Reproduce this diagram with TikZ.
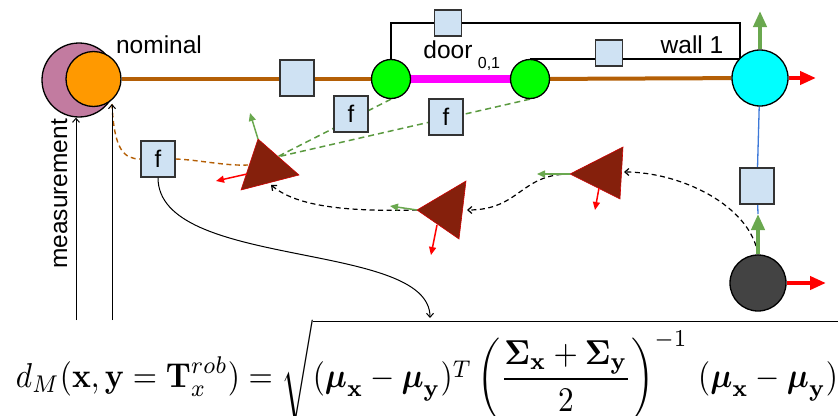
\documentclass[tikz,border=0pt]{standalone}
\usepackage[no-math]{fontspec}
\usepackage{amsmath}
\usepackage{graphicx}
\newfontfamily\arial{Liberation Sans}
\usetikzlibrary{arrows.meta, backgrounds}
\definecolor{measfill}{HTML}{C27BA0}
\definecolor{nomfill}{HTML}{FF9900}
\definecolor{odomline}{HTML}{B45F06}
\definecolor{boxfill}{HTML}{CFE2F3}
\definecolor{boxline}{HTML}{333333}
\definecolor{doorfill}{HTML}{00FF00}
\definecolor{doorline}{HTML}{FF00FF}
\definecolor{wallfill}{HTML}{00FFFF}
\definecolor{robfill}{HTML}{434343}
\definecolor{posefill}{HTML}{85200C}
\definecolor{axisgreen}{HTML}{6AA84F}
\definecolor{dashgreen}{HTML}{5B9A40}
\definecolor{vertline}{HTML}{3C78D8}
\tikzstyle{vertex} = [circle, draw=black, line width=1.3pt, inner sep=0pt]
\tikzstyle{factor} = [rectangle, draw=boxline, fill=boxfill, line width=1.3pt, minimum width=34pt, minimum height=36pt, inner sep=0pt, font=\arial\fontsize{24}{28}\selectfont]
\tikzstyle{smallfactor} = [factor, minimum width=27pt, minimum height=26pt]
\tikzstyle{annot} = [inner sep=0pt, font=\arial\fontsize{24.5}{29}\selectfont]
\tikzstyle{arrow} = [line width=1pt, -{Straight Barb[length=4pt,width=7pt]}]
\tikzstyle{trail} = [arrow, line width=1.2pt, dash pattern=on 5pt off 3.5pt]
\tikzstyle{gdash} = [line width=1.5pt, draw=dashgreen, dash pattern=on 6pt off 4pt]
\tikzstyle{odash} = [line width=1.4pt, draw=odomline, dash pattern=on 5pt off 3.5pt]
\tikzstyle{bigaxis} = [line width=4pt, -{Triangle[length=16pt,width=13pt]}]
\tikzstyle{smallaxis} = [line width=1.5pt, -{Triangle[length=8pt,width=7pt]}]
\tikzstyle{pose} = [fill=posefill, draw=red!80!black, line width=0.6pt]

\begin{document}
\begin{tikzpicture}[x=1pt, y=-1pt]
        \useasboundingbox (0,0) rectangle (840,415);
        % Nodes
        \node (meas) [vertex, fill=measfill, minimum size=74pt] at (79,80) {};
        \node (nom) [vertex, fill=nomfill, minimum size=55pt] at (93.5,79) {};
        \node (gL) [vertex, fill=doorfill, minimum size=39pt] at (391,79) {};
        \node (gR) [vertex, fill=doorfill, minimum size=39pt] at (530,79) {};
        \node (wall) [vertex, fill=wallfill, minimum size=56pt] at (760,78) {};
        \node (rob) [vertex, fill=robfill, minimum size=56pt] at (758,283) {};

        \node (odom) [factor] at (297,78) {};
        \node (ftop) [smallfactor] at (448,23) {};
        \node (fwall) [smallfactor] at (609,53) {};
        \node (fvert) [factor] at (757,186) {};
        \node (f1) [factor] at (158,159) {f};
        \node (f2) [factor] at (351,114) {f};
        \node (f3) [factor] at (446,117) {f};

        \node (nomtxt) [annot, anchor=base] at (159,53) {nominal};
        \node (meastxt) [annot, anchor=base, rotate=90] at (67,194) {measurement};
        \node (doortxt) [annot, anchor=base] at (448,58) {door};
        \node (doorsub) [annot, anchor=base, font=\arial\fontsize{16}{18}\selectfont] at (489,68) {0,1};
        \node (walltxt) [annot, anchor=base] at (692,53) {wall 1};

        \node (eq) [anchor=north, inner sep=0pt] at (427,319) {\resizebox*{822pt}{105pt}{$\displaystyle d_M(\mathbf{x},\mathbf{y}=\mathbf{T}_x^{rob})=\sqrt{(\boldsymbol{\mu}_{\mathbf{x}}-\boldsymbol{\mu}_{\mathbf{y}})^T\left(\frac{\boldsymbol{\Sigma}_{\mathbf{x}}+\boldsymbol{\Sigma}_{\mathbf{y}}}{2}\right)^{-1}\,(\boldsymbol{\mu}_{\mathbf{x}}-\boldsymbol{\mu}_{\mathbf{y}})}$}};

        % Robot poses
        \coordinate (t1a) at (258,139); \coordinate (t1b) at (299,175); \coordinate (t1c) at (241,190);
        \coordinate (t2a) at (417,210); \coordinate (t2b) at (466,181); \coordinate (t2c) at (459,239);
        \coordinate (t3a) at (570,174); \coordinate (t3b) at (623,147); \coordinate (t3c) at (620,199);
        \filldraw[pose] (t1a) -- (t1b) -- (t1c) -- cycle;
        \filldraw[pose] (t2a) -- (t2b) -- (t2c) -- cycle;
        \filldraw[pose] (t3a) -- (t3b) -- (t3c) -- cycle;

        % Free ends
        \coordinate (wallc) at (740,59.5);
        \coordinate (wallx) at (816,78);
        \coordinate (wally) at (760,11);
        \coordinate (robx) at (826,283);
        \coordinate (roby) at (758,214);
        \coordinate (t1in) at (248,165);
        \coordinate (t1g) at (277,157);
        \coordinate (t1s) at (271,185);
        \coordinate (t2s) at (467,210);
        \coordinate (t3s) at (624,172);
        \coordinate (m1) at (76,320);
        \coordinate (m2) at (112,320);
        \coordinate (eqin) at (430,318);

        % Connections
        \begin{scope}[on background layer]
        \draw [line width=4pt, odomline] (nom) -- (gL);
        \draw [line width=8pt, doorline] (gL) -- (gR);
        \draw [line width=4pt, odomline] (gR) -- (wall);
        \draw [line width=1.3pt] (gL.north) |- (ftop) -| (wallc);
        \draw [line width=1.3pt] (gR.north) -- (gR.north -| wallc);
        \draw [line width=1.3pt, vertline] (wall) -- (fvert) -- (roby);
        \draw [gdash] (gL.south) -- (t1g);
        \draw [gdash] (gR.south) -- (t1g);
        \draw [odash] (112,104) .. controls (114,150) and (124,159) .. (f1.west);
        \draw [odash] (f1.east) .. controls (200,160) and (225,166) .. (t1in);
        \draw [trail] (rob.north) .. controls (750,205) and (680,172) .. (t3s);
        \draw [trail] (t3a) .. controls (520,174) and (520,210) .. (t2s);
        \draw [trail] (t2a) .. controls (340,212) and (295,205) .. (t1s);
        \end{scope}

        \draw [smallaxis, axisgreen] (t1a) -- (250,113);
        \draw [smallaxis, red] (247,174) -- (216,181);
        \draw [smallaxis, axisgreen] (t2a) -- (390,206);
        \draw [smallaxis, red] (437,225) -- (431,255);
        \draw [smallaxis, axisgreen] (t3a) -- (537,174);
        \draw [smallaxis, red] (599,188) -- (595,210);

        \draw [bigaxis, axisgreen] (wall.north) -- (wally);
        \draw [bigaxis, red] (wall.east) -- (wallx);
        \draw [bigaxis, axisgreen] (rob.north) -- (roby);
        \draw [bigaxis, red] (rob.east) -- (robx);

        \draw [arrow] (m1) -- (m1 |- meas.south);
        \draw [arrow] (m2) -- (112,104);
        \draw [arrow] (f1.south) .. controls (158,270) and (430,240) .. (eqin);
    \end{tikzpicture}
\end{document}
